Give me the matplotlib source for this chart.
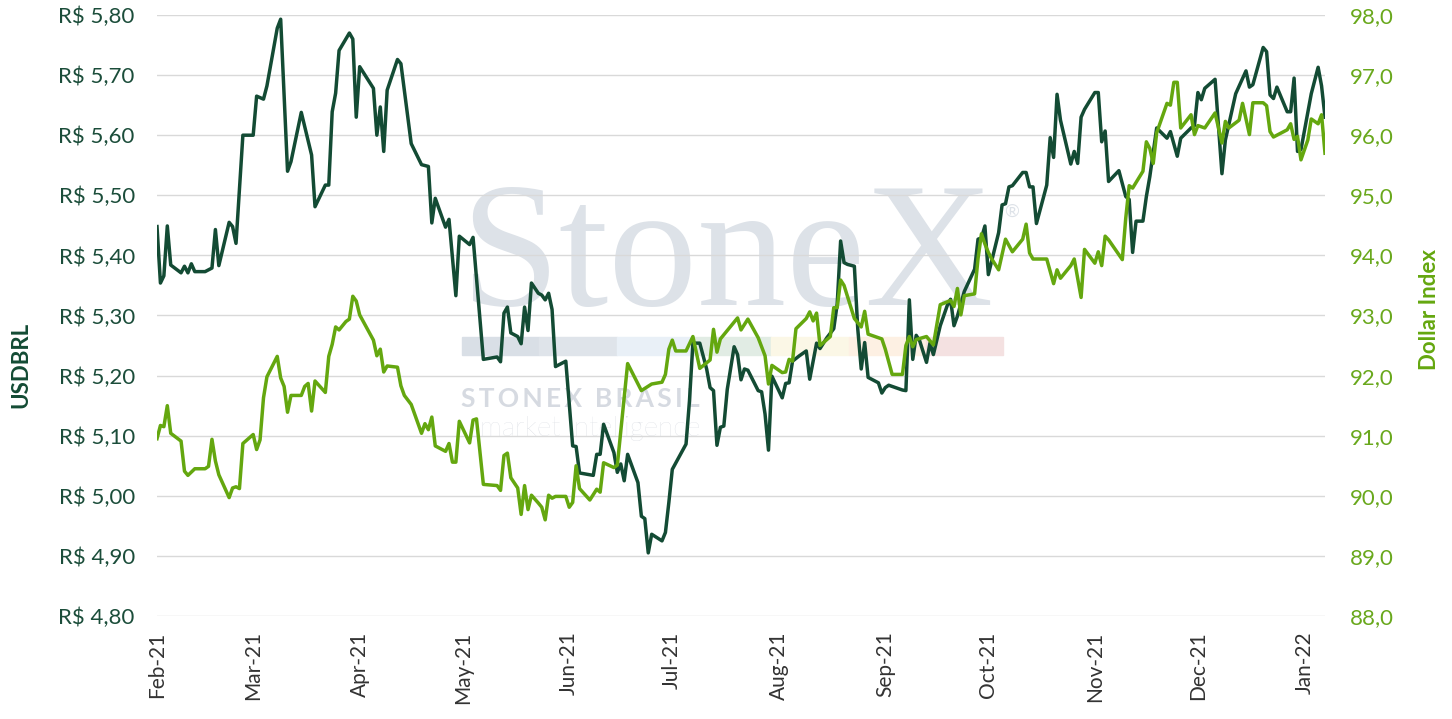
import pandas as pd
import matplotlib
matplotlib.use("Agg")
import matplotlib.pyplot as plt
import matplotlib.dates as mdates
from matplotlib.patches import Rectangle
from matplotlib.ticker import FuncFormatter, MultipleLocator

# USDBRL (left axis)
brl_dates = [
    "2021-02-01", "2021-02-02", "2021-02-03", "2021-02-04", "2021-02-05", "2021-02-08", "2021-02-09",
    "2021-02-10", "2021-02-11", "2021-02-12", "2021-02-15", "2021-02-17", "2021-02-18", "2021-02-19",
    "2021-02-22", "2021-02-23", "2021-02-24", "2021-02-26", "2021-03-01", "2021-03-02", "2021-03-04",
    "2021-03-05", "2021-03-08", "2021-03-09", "2021-03-11", "2021-03-12", "2021-03-15", "2021-03-18",
    "2021-03-19", "2021-03-22", "2021-03-23", "2021-03-24", "2021-03-25", "2021-03-26", "2021-03-29",
    "2021-03-30", "2021-03-31", "2021-04-01", "2021-04-05", "2021-04-06", "2021-04-07", "2021-04-08",
    "2021-04-09", "2021-04-12", "2021-04-13", "2021-04-16", "2021-04-19", "2021-04-21", "2021-04-22",
    "2021-04-23", "2021-04-26", "2021-04-27", "2021-04-29", "2021-04-30", "2021-05-03", "2021-05-04",
    "2021-05-07", "2021-05-11", "2021-05-12", "2021-05-13", "2021-05-14", "2021-05-15", "2021-05-17",
    "2021-05-18", "2021-05-19", "2021-05-20", "2021-05-21", "2021-05-23", "2021-05-24", "2021-05-25",
    "2021-05-26", "2021-05-27", "2021-05-28", "2021-05-30", "2021-05-31", "2021-06-02", "2021-06-03",
    "2021-06-04", "2021-06-08", "2021-06-09", "2021-06-10", "2021-06-11", "2021-06-14", "2021-06-15",
    "2021-06-16", "2021-06-17", "2021-06-18", "2021-06-21", "2021-06-22", "2021-06-23", "2021-06-24",
    "2021-06-25", "2021-06-28", "2021-06-29", "2021-06-30", "2021-07-01", "2021-07-05", "2021-07-06",
    "2021-07-07", "2021-07-09", "2021-07-11", "2021-07-12", "2021-07-13", "2021-07-14", "2021-07-15",
    "2021-07-16", "2021-07-17", "2021-07-19", "2021-07-20", "2021-07-21", "2021-07-22", "2021-07-23",
    "2021-07-26", "2021-07-27", "2021-07-28", "2021-07-29", "2021-07-30", "2021-08-02", "2021-08-03",
    "2021-08-04", "2021-08-05", "2021-08-07", "2021-08-09", "2021-08-10", "2021-08-12", "2021-08-13",
    "2021-08-15", "2021-08-17", "2021-08-18", "2021-08-19", "2021-08-20", "2021-08-21", "2021-08-23",
    "2021-08-24", "2021-08-25", "2021-08-26", "2021-08-27", "2021-08-30", "2021-08-31", "2021-09-01",
    "2021-09-02", "2021-09-06", "2021-09-07", "2021-09-08", "2021-09-09", "2021-09-10", "2021-09-11",
    "2021-09-13", "2021-09-14", "2021-09-15", "2021-09-17", "2021-09-19", "2021-09-20", "2021-09-21",
    "2021-09-22", "2021-09-24", "2021-09-27", "2021-09-28", "2021-09-29", "2021-09-30", "2021-10-01",
    "2021-10-04", "2021-10-05", "2021-10-06", "2021-10-07", "2021-10-08", "2021-10-11", "2021-10-12",
    "2021-10-13", "2021-10-14", "2021-10-15", "2021-10-18", "2021-10-19", "2021-10-20", "2021-10-21",
    "2021-10-22", "2021-10-25", "2021-10-26", "2021-10-27", "2021-10-28", "2021-10-29", "2021-11-01",
    "2021-11-02", "2021-11-03", "2021-11-04", "2021-11-05", "2021-11-08", "2021-11-10", "2021-11-11",
    "2021-11-12", "2021-11-13", "2021-11-15", "2021-11-16", "2021-11-17", "2021-11-19", "2021-11-22",
    "2021-11-23", "2021-11-25", "2021-11-26", "2021-11-29", "2021-11-30", "2021-12-01", "2021-12-02",
    "2021-12-03", "2021-12-06", "2021-12-08", "2021-12-09", "2021-12-12", "2021-12-15", "2021-12-16",
    "2021-12-17", "2021-12-20", "2021-12-21", "2021-12-22", "2021-12-23", "2021-12-24", "2021-12-27",
    "2021-12-28", "2021-12-29", "2021-12-30", "2021-12-31", "2022-01-03", "2022-01-05", "2022-01-06",
    "2022-01-07",
]
brl_vals = [
    5.448, 5.354, 5.366, 5.449, 5.384, 5.371, 5.382, 5.371, 5.386, 5.373, 5.373, 5.379, 5.443, 5.383,
    5.455, 5.448, 5.420, 5.600, 5.600, 5.665, 5.660, 5.682, 5.778, 5.793, 5.540, 5.556, 5.638, 5.567,
    5.481, 5.517, 5.517, 5.639, 5.670, 5.741, 5.770, 5.760, 5.630, 5.714, 5.678, 5.600, 5.647, 5.573,
    5.675, 5.726, 5.719, 5.586, 5.551, 5.548, 5.454, 5.495, 5.447, 5.460, 5.333, 5.432, 5.418, 5.430,
    5.227, 5.231, 5.223, 5.304, 5.314, 5.271, 5.265, 5.253, 5.314, 5.275, 5.354, 5.337, 5.334, 5.326,
    5.337, 5.310, 5.215, 5.221, 5.224, 5.083, 5.082, 5.038, 5.034, 5.069, 5.069, 5.119, 5.072, 5.039,
    5.053, 5.025, 5.069, 5.022, 4.966, 4.962, 4.905, 4.936, 4.925, 4.939, 4.989, 5.044, 5.086, 5.158,
    5.254, 5.254, 5.211, 5.180, 5.175, 5.084, 5.114, 5.116, 5.177, 5.248, 5.235, 5.193, 5.211, 5.209,
    5.175, 5.173, 5.136, 5.076, 5.199, 5.163, 5.187, 5.188, 5.224, 5.233, 5.241, 5.194, 5.254, 5.245,
    5.263, 5.278, 5.319, 5.424, 5.388, 5.385, 5.382, 5.277, 5.211, 5.255, 5.197, 5.188, 5.171, 5.180,
    5.184, 5.176, 5.175, 5.326, 5.227, 5.267, 5.258, 5.222, 5.254, 5.235, 5.283, 5.316, 5.327, 5.283,
    5.299, 5.340, 5.377, 5.427, 5.429, 5.449, 5.368, 5.438, 5.484, 5.486, 5.514, 5.516, 5.538, 5.538,
    5.514, 5.514, 5.453, 5.517, 5.596, 5.563, 5.668, 5.625, 5.552, 5.573, 5.553, 5.630, 5.643, 5.671,
    5.671, 5.589, 5.607, 5.523, 5.541, 5.498, 5.493, 5.405, 5.457, 5.457, 5.498, 5.531, 5.612, 5.595,
    5.606, 5.565, 5.595, 5.612, 5.616, 5.671, 5.659, 5.678, 5.693, 5.536, 5.592, 5.669, 5.707, 5.680,
    5.684, 5.746, 5.739, 5.667, 5.661, 5.680, 5.639, 5.639, 5.695, 5.573, 5.576, 5.669, 5.713, 5.682,
    5.630,
]

# Dollar Index (right axis)
dxy_dates = [
    "2021-02-01", "2021-02-02", "2021-02-03", "2021-02-04", "2021-02-05", "2021-02-08", "2021-02-09",
    "2021-02-10", "2021-02-12", "2021-02-15", "2021-02-16", "2021-02-17", "2021-02-18", "2021-02-19",
    "2021-02-22", "2021-02-23", "2021-02-24", "2021-02-25", "2021-02-26", "2021-03-01", "2021-03-02",
    "2021-03-03", "2021-03-04", "2021-03-05", "2021-03-08", "2021-03-09", "2021-03-10", "2021-03-11",
    "2021-03-12", "2021-03-15", "2021-03-16", "2021-03-17", "2021-03-18", "2021-03-19", "2021-03-22",
    "2021-03-23", "2021-03-24", "2021-03-25", "2021-03-26", "2021-03-28", "2021-03-29", "2021-03-30",
    "2021-03-31", "2021-04-01", "2021-04-05", "2021-04-06", "2021-04-07", "2021-04-08", "2021-04-09",
    "2021-04-12", "2021-04-13", "2021-04-14", "2021-04-16", "2021-04-19", "2021-04-20", "2021-04-21",
    "2021-04-22", "2021-04-23", "2021-04-26", "2021-04-27", "2021-04-28", "2021-04-29", "2021-04-30",
    "2021-05-03", "2021-05-04", "2021-05-05", "2021-05-07", "2021-05-11", "2021-05-12", "2021-05-13",
    "2021-05-14", "2021-05-15", "2021-05-17", "2021-05-18", "2021-05-19", "2021-05-20", "2021-05-21",
    "2021-05-23", "2021-05-24", "2021-05-25", "2021-05-26", "2021-05-27", "2021-05-28", "2021-05-31",
    "2021-06-01", "2021-06-02", "2021-06-03", "2021-06-04", "2021-06-07", "2021-06-09", "2021-06-10",
    "2021-06-11", "2021-06-14", "2021-06-15", "2021-06-18", "2021-06-22", "2021-06-25", "2021-06-28",
    "2021-06-29", "2021-06-30", "2021-07-01", "2021-07-02", "2021-07-05", "2021-07-07", "2021-07-09",
    "2021-07-12", "2021-07-13", "2021-07-14", "2021-07-15", "2021-07-20", "2021-07-21", "2021-07-23",
    "2021-07-26", "2021-07-28", "2021-07-29", "2021-07-30", "2021-08-02", "2021-08-03", "2021-08-04",
    "2021-08-05", "2021-08-06", "2021-08-09", "2021-08-10", "2021-08-11", "2021-08-12", "2021-08-13",
    "2021-08-16", "2021-08-17", "2021-08-18", "2021-08-19", "2021-08-20", "2021-08-23", "2021-08-25",
    "2021-08-26", "2021-08-27", "2021-08-31", "2021-09-01", "2021-09-03", "2021-09-06", "2021-09-07",
    "2021-09-08", "2021-09-09", "2021-09-10", "2021-09-13", "2021-09-15", "2021-09-17", "2021-09-20",
    "2021-09-21", "2021-09-22", "2021-09-23", "2021-09-24", "2021-09-27", "2021-09-28", "2021-09-29",
    "2021-09-30", "2021-10-01", "2021-10-02", "2021-10-04", "2021-10-06", "2021-10-08", "2021-10-11",
    "2021-10-12", "2021-10-13", "2021-10-14", "2021-10-18", "2021-10-20", "2021-10-21", "2021-10-22",
    "2021-10-25", "2021-10-26", "2021-10-28", "2021-10-29", "2021-11-01", "2021-11-02", "2021-11-03",
    "2021-11-04", "2021-11-05", "2021-11-09", "2021-11-10", "2021-11-11", "2021-11-12", "2021-11-15",
    "2021-11-16", "2021-11-17", "2021-11-18", "2021-11-19", "2021-11-22", "2021-11-23", "2021-11-24",
    "2021-11-25", "2021-11-26", "2021-11-29", "2021-11-30", "2021-12-01", "2021-12-03", "2021-12-06",
    "2021-12-08", "2021-12-09", "2021-12-10", "2021-12-13", "2021-12-14", "2021-12-16", "2021-12-17",
    "2021-12-20", "2021-12-21", "2021-12-22", "2021-12-23", "2021-12-27", "2021-12-28", "2021-12-29",
    "2021-12-30", "2021-12-31", "2022-01-02", "2022-01-03", "2022-01-05", "2022-01-06", "2022-01-07",
]
dxy_vals = [
    90.95, 91.17, 91.15, 91.50, 91.04, 90.91, 90.41, 90.34, 90.45, 90.45, 90.49, 90.94, 90.58, 90.35,
    89.97, 90.13, 90.15, 90.12, 90.87, 91.02, 90.77, 90.93, 91.63, 91.98, 92.32, 91.96, 91.82, 91.39,
    91.67, 91.67, 91.82, 91.87, 91.41, 91.91, 91.72, 92.32, 92.52, 92.81, 92.76, 92.90, 92.94, 93.32,
    93.24, 93.01, 92.59, 92.33, 92.44, 92.06, 92.16, 92.14, 91.83, 91.67, 91.52, 91.04, 91.20, 91.10,
    91.31, 90.83, 90.74, 90.87, 90.56, 90.56, 91.24, 90.88, 91.26, 91.28, 90.19, 90.17, 90.09, 90.67,
    90.71, 90.30, 90.13, 89.69, 90.17, 89.77, 90.01, 89.88, 89.81, 89.60, 90.01, 89.96, 89.99, 89.99,
    89.81, 89.89, 90.50, 90.12, 89.93, 90.11, 90.06, 90.55, 90.47, 90.51, 92.20, 91.75, 91.86, 91.89,
    92.02, 92.44, 92.59, 92.41, 92.41, 92.65, 92.12, 92.26, 92.77, 92.39, 92.61, 92.96, 92.76, 92.94,
    92.63, 92.33, 91.86, 92.17, 92.05, 92.06, 92.27, 92.24, 92.78, 92.95, 93.06, 92.91, 93.04, 92.50,
    92.65, 93.13, 93.13, 93.59, 93.50, 92.95, 92.81, 93.07, 92.69, 92.61, 92.44, 92.02, 92.02, 92.50,
    92.65, 92.48, 92.60, 92.65, 92.51, 93.18, 93.25, 93.15, 93.45, 93.01, 93.33, 93.36, 93.95, 94.36,
    94.19, 94.05, 93.94, 93.76, 94.27, 94.06, 94.27, 94.52, 94.04, 93.94, 93.94, 93.53, 93.76, 93.62,
    93.83, 93.94, 93.30, 94.10, 93.87, 94.06, 93.83, 94.32, 94.26, 93.93, 94.62, 95.16, 95.12, 95.40,
    95.89, 95.78, 95.53, 96.04, 96.53, 96.50, 96.88, 96.88, 96.12, 96.34, 96.01, 96.16, 96.12, 96.37,
    95.87, 96.23, 96.12, 96.25, 96.53, 96.01, 96.54, 96.54, 96.49, 96.06, 95.97, 96.09, 96.19, 95.93,
    95.98, 95.59, 95.92, 96.27, 96.19, 96.34, 95.70,
]

DARK = "#134b34"
LIGHT = "#64a70f"
W, H = 1452, 719


def fx(px):
    return px / W


def fy(py):
    return 1 - py / H


plt.rcParams["font.family"] = ["Lato", "DejaVu Sans"]

fig = plt.figure(figsize=(W / 100, H / 100), dpi=100)
ax = fig.add_axes([fx(157), fy(616), (1325 - 157) / W, (616 - 15) / H])
ax.patch.set_visible(False)
ax2 = ax.twinx()

# marca d'agua
fig.text(fx(460), fy(305), "StoneX", family="Liberation Serif", fontsize=128,
         color="#dde2e8", ha="left", va="baseline", zorder=-2)
fig.text(fx(1004), fy(212), "\u00ae", fontsize=13, color="#dde2e8",
         ha="left", va="center", zorder=-2)
strip = ["#d9dfe6", "#dfe4ea", "#e9f0f7", "#e1ece4", "#fbf7e6", "#fdf0e3", "#f4e1e1"]
for i, c in enumerate(strip):
    x0 = 462 + i * 77.3
    fig.patches.append(Rectangle((fx(x0), fy(355)), 77.3 / W, 18 / H,
                                 transform=fig.transFigure, color=c, zorder=-2))
fig.text(fx(461), fy(407), "\u2009".join("STONEX BRASIL"), fontsize=19, fontweight="bold",
         color="#d6dae1", ha="left", va="baseline", zorder=-2)
fig.text(fx(480), fy(436), "market intelligence", fontsize=20, fontweight="light",
         color="#d2d6dd", ha="left", va="baseline", zorder=-2)

dt_brl = pd.to_datetime(brl_dates)
dt_dxy = pd.to_datetime(dxy_dates)
ax.plot(dt_brl, brl_vals, color=DARK, lw=2.5, solid_joinstyle="round")
ax2.plot(dt_dxy, dxy_vals, color=LIGHT, lw=2.5, solid_joinstyle="round")

ax.set_xlim(dt_brl[0], dt_brl[-1])
ax.set_ylim(4.8, 5.8)
ax2.set_ylim(88, 98)
ax.yaxis.set_major_locator(MultipleLocator(0.1))
ax2.yaxis.set_major_locator(MultipleLocator(1))
ax.yaxis.set_major_formatter(FuncFormatter(lambda v, p: "R$ " + f"{v:.2f}".replace(".", ",")))
ax2.yaxis.set_major_formatter(FuncFormatter(lambda v, p: f"{v:.1f}".replace(".", ",")))
ax.xaxis.set_major_locator(mdates.MonthLocator())
ax.xaxis.set_major_formatter(mdates.DateFormatter("%b-%y"))

ax.grid(axis="y", color="#d9d9d9", lw=1)
ax.set_axisbelow(True)
for a in (ax, ax2):
    for s in a.spines.values():
        s.set_visible(False)

ax.tick_params(axis="y", length=0, pad=16, labelsize=16, labelcolor="#1b4d3a")
ax2.tick_params(axis="y", length=0, pad=18, labelsize=16, labelcolor="#69a81c")
ax.tick_params(axis="x", length=0, pad=11, labelsize=15, labelcolor="#333333", labelrotation=90)

fig.text(fx(21), fy(365), "USDBRL", rotation=90, fontsize=16, fontweight="bold",
         color=DARK, ha="center", va="center")
fig.text(fx(1429), fy(310), "Dollar Index", rotation=90, fontsize=16, fontweight="bold",
         color=LIGHT, ha="center", va="center")

fig.savefig("out.png", dpi=100)
